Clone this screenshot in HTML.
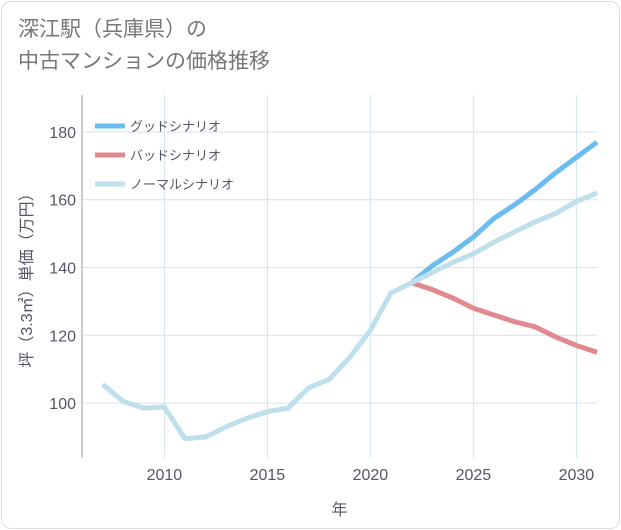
<!DOCTYPE html>
<html><head><meta charset="utf-8"><style>
body{margin:0;background:#fff;}
.wrap{position:relative;width:621px;height:530px;font-family:"Liberation Sans","Noto Sans CJK JP",sans-serif;}
.frame{position:absolute;left:1px;top:1px;width:617px;height:526px;border:1px solid #ddd;border-radius:10px;}
.title{position:absolute;left:18px;top:14px;font-size:21px;line-height:32px;color:#777;}
</style></head><body>
<div class="wrap">
<div class="frame"></div>
<div class="title">深江駅（兵庫県）の<br>中古マンションの価格推移</div>
<svg id="chart" width="621" height="530" style="position:absolute;left:0;top:0"></svg>
</div>
<script>
const years=[2007,2008,2009,2010,2011,2012,2013,2014,2015,2016,2017,2018,2019,2020,2021,2022,2023,2024,2025,2026,2027,2028,2029,2030,2031];
const normal=[105.5,100.5,98.5,98.8,89.5,90,93,95.5,97.5,98.5,104.5,107,113.5,121.5,132.5,135.5,138.5,141.5,144,147.5,150.5,153.5,156,159.5,162];
const goodYears=[2022,2023,2024,2025,2026,2027,2028,2029,2030,2031];
const good=[135.5,140.5,144.5,149,154.5,158.5,163,168,172.5,177];
const bad=[135.5,133.5,131,128,126,124,122.5,119.5,117,115];
const xTicks=[2010,2015,2020,2025,2030];
const yTicks=[100,120,140,160,180];
const legendLabels=["グッドシナリオ","バッドシナリオ","ノーマルシナリオ"];
const colors=["#6bbdf0","#e08a90","#bfdfec"];

const L=82,R=597,T=95,B=458,X0=2006,X1=2031,Y0=83.8,Y1=190.9;
const sx=v=>L+(v-X0)/(X1-X0)*(R-L);
const sy=v=>B-(v-Y0)/(Y1-Y0)*(B-T);
const svg=document.getElementById('chart');
const NS='http://www.w3.org/2000/svg';
function mk(tag,attrs){const e=document.createElementNS(NS,tag);for(const k in attrs)e.setAttribute(k,attrs[k]);svg.appendChild(e);return e;}
xTicks.forEach(t=>{
 const g=mk('line',{x1:sx(t),x2:sx(t),y1:T,y2:B,stroke:'#d3e3ee','stroke-width':1});
 
 
 const tx=mk('text',{x:sx(t),y:B+22,'text-anchor':'middle','font-size':16,fill:'#556'});
 tx.textContent=t;
 
 
});
yTicks.forEach(t=>{
 const g=mk('line',{x1:L,x2:R,y1:sy(t),y2:sy(t),stroke:'#d3e3ee','stroke-width':1});
 
 
 const tx=mk('text',{x:L-6,y:sy(t)+6,'text-anchor':'end','font-size':16,fill:'#556'});
 tx.textContent=t;
 
 
});
const ax=mk('line',{x1:L,x2:L,y1:T,y2:B,stroke:'#999','stroke-width':1});


function line(xs,ys,c,name){
 const p=mk('polyline',{points:xs.map((x,i)=>sx(x)+','+sy(ys[i])).join(' '),fill:'none',stroke:c,'stroke-width':5,'stroke-linejoin':'round'});
 
 
}
line(goodYears,bad,colors[1],'bad-scenario-line');
line(goodYears,good,colors[0],'good-scenario-line');
line(years,normal,colors[2],'normal-scenario-line');
legendLabels.forEach((lab,i)=>{
 const y=126+i*29;
 const l=mk('line',{x1:95,x2:125,y1:y,y2:y,stroke:colors[i],'stroke-width':5});
 
 
 const t=mk('text',{x:130,y:y+5,'font-size':13,fill:'#556'});
 t.textContent=lab;
 
 
});
const xt=mk('text',{x:(L+R)/2,y:515,'text-anchor':'middle','font-size':16,fill:'#556'});
xt.textContent='年';


const yt=mk('text',{x:0,y:0,'text-anchor':'middle','font-size':16,fill:'#556',transform:'translate(32,'+((T+B)/2)+') rotate(-90)'});
yt.textContent='坪（3.3㎡）単価（万円）';


</script>
</body></html>
